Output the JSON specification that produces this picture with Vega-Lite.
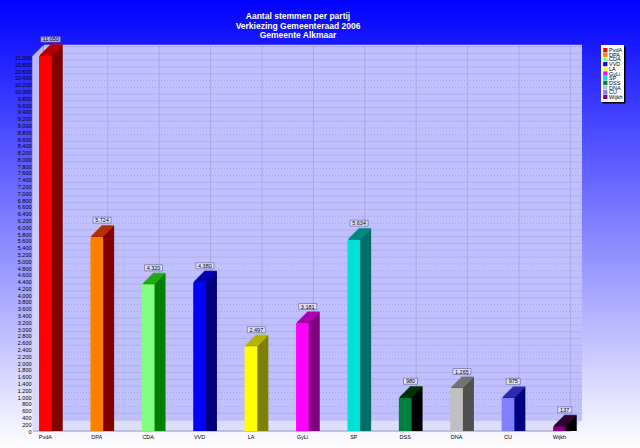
{"$schema":"https://vega.github.io/schema/vega-lite/v6.json","width":640,"height":448,"autosize":"none","padding":0,"background":"#ffffff","view":{"stroke":null,"fill":{"gradient":"linear","x1":0,"y1":0,"x2":0,"y2":1,"stops":[{"offset":0,"color":"#0000ff"},{"offset":1,"color":"#ffffff"}]}},
"title":{"text":["Aantal stemmen per partij","Verkiezing Gemeenteraad 2006","Gemeente Alkmaar"],"color":"#ffffe8","fontSize":8.5,"fontWeight":"bold","font":"Liberation Sans","lineHeight":9.7,"anchor":"middle","frame":"group","baseline":"top","dx":-22,"dy":40,"offset":0},
"datasets":{"votes":[{"party":"PvdA","votes":11050},{"party":"DPA","votes":5724},{"party":"CDA","votes":4320},{"party":"VVD","votes":4380},{"party":"LA","votes":2497},{"party":"GyLi","votes":3181},{"party":"SP","votes":5634},{"party":"DSS","votes":980},{"party":"DNA","votes":1265},{"party":"CU","votes":975},{"party":"Wijkh","votes":137}],
"gridSolid":[{"v":0},{"v":200},{"v":1000},{"v":1200},{"v":1400},{"v":1600},{"v":2200},{"v":2400},{"v":2600},{"v":2800},{"v":3000},{"v":3600},{"v":3800},{"v":4000},{"v":4200},{"v":4800},{"v":5000},{"v":5200},{"v":5400},{"v":5600},{"v":6200},{"v":6400},{"v":6600},{"v":6800},{"v":7000},{"v":7600},{"v":7800},{"v":8000},{"v":8200},{"v":8800},{"v":9000},{"v":9200},{"v":9400},{"v":9600},{"v":10200},{"v":10400},{"v":10600},{"v":10800},{"v":11000}],
"gridDotted":[{"v":400},{"v":600},{"v":800},{"v":1800},{"v":2000},{"v":3200},{"v":3400},{"v":4400},{"v":4600},{"v":5800},{"v":6000},{"v":7200},{"v":7400},{"v":8400},{"v":8600},{"v":9800},{"v":10000}],
"panel":[{"from":0,"to":1,"low":0,"high":11378}]},
"resolve":{"scale":{"x":"independent","y":"independent","color":"independent"},"axis":{"x":"independent","y":"independent"}},
"layer":[
{"data":{"name":"panel"},"mark":{"type":"rect","color":"#c0c0ff","yOffset":-11},"encoding":{"x":{"field":"from","type":"quantitative","axis":null,"scale":{"domain":[0,1],"range":[44,582]}},"x2":{"field":"to"},"y":{"field":"low","type":"quantitative","scale":{"domain":[0,11378],"range":[431,44.7],"nice":false},"axis":{"values":[0,200,400,600,800,1000,1200,1400,1600,1800,2000,2200,2400,2600,2800,3000,3200,3400,3600,3800,4000,4200,4400,4600,4800,5000,5200,5400,5600,5800,6000,6200,6400,6600,6800,7000,7200,7400,7600,7800,8000,8200,8400,8600,8800,9000,9200,9400,9600,9800,10000,10200,10400,10600,10800,11000],"orient":"left","offset":-33,"title":null,"domain":false,"ticks":false,"grid":false,"labelFontSize":5.5,"labelFont":"Liberation Sans","labelColor":"#000000","labelPadding":2,"labelOverlap":false,"labelFlush":false,"labelBound":false,"labelExpr":"replace(format(datum.value,','),',','.')"}},"y2":{"field":"high"}}},
{"data":{"name":"panel"},"encoding":{"x":{"field":"from","type":"quantitative","axis":null,"scale":{"domain":[0,1],"range":[33,571]}},"x2":{"field":"to"},"y":{"field":"low","type":"quantitative","axis":null,"scale":{"domain":[0,11378],"range":[431,44.7],"nice":false}}},"layer":[
{"mark":{"type":"rule","color":"#d8d8fb","strokeWidth":1.2,"xOffset":0,"yOffset":0}},
{"mark":{"type":"rule","color":"#d8d8fb","strokeWidth":1.2,"xOffset":1,"x2Offset":1,"yOffset":-1}},
{"mark":{"type":"rule","color":"#d8d8fb","strokeWidth":1.2,"xOffset":2,"x2Offset":2,"yOffset":-2}},
{"mark":{"type":"rule","color":"#d8d8fb","strokeWidth":1.2,"xOffset":3,"x2Offset":3,"yOffset":-3}},
{"mark":{"type":"rule","color":"#d8d8fb","strokeWidth":1.2,"xOffset":4,"x2Offset":4,"yOffset":-4}},
{"mark":{"type":"rule","color":"#d8d8fb","strokeWidth":1.2,"xOffset":5,"x2Offset":5,"yOffset":-5}},
{"mark":{"type":"rule","color":"#d8d8fb","strokeWidth":1.2,"xOffset":6,"x2Offset":6,"yOffset":-6}},
{"mark":{"type":"rule","color":"#d8d8fb","strokeWidth":1.2,"xOffset":7,"x2Offset":7,"yOffset":-7}},
{"mark":{"type":"rule","color":"#d8d8fb","strokeWidth":1.2,"xOffset":8,"x2Offset":8,"yOffset":-8}},
{"mark":{"type":"rule","color":"#d8d8fb","strokeWidth":1.2,"xOffset":9,"x2Offset":9,"yOffset":-9}},
{"mark":{"type":"rule","color":"#d8d8fb","strokeWidth":1.2,"xOffset":10,"x2Offset":10,"yOffset":-10}},
{"mark":{"type":"rule","color":"#d8d8fb","strokeWidth":1.2,"xOffset":11,"x2Offset":11,"yOffset":-11}},
{"mark":{"type":"rule","color":"#8c8cb4","strokeWidth":0.8}}]},
{"data":{"name":"panel"},"encoding":{"x":{"field":"from","type":"quantitative","axis":null,"scale":{"domain":[0,1],"range":[33,571]}},"y":{"field":"low","type":"quantitative","axis":null,"scale":{"domain":[0,11378],"range":[431,44.7],"nice":false}},"y2":{"field":"high"}},"layer":[
{"mark":{"type":"rule","color":"#d8d8fb","strokeWidth":1.2,"xOffset":0,"y2Offset":11}},
{"mark":{"type":"rule","color":"#d8d8fb","strokeWidth":1.2,"xOffset":1,"yOffset":-1,"y2Offset":10}},
{"mark":{"type":"rule","color":"#d8d8fb","strokeWidth":1.2,"xOffset":2,"yOffset":-2,"y2Offset":9}},
{"mark":{"type":"rule","color":"#d8d8fb","strokeWidth":1.2,"xOffset":3,"yOffset":-3,"y2Offset":8}},
{"mark":{"type":"rule","color":"#d8d8fb","strokeWidth":1.2,"xOffset":4,"yOffset":-4,"y2Offset":7}},
{"mark":{"type":"rule","color":"#d8d8fb","strokeWidth":1.2,"xOffset":5,"yOffset":-5,"y2Offset":6}},
{"mark":{"type":"rule","color":"#d8d8fb","strokeWidth":1.2,"xOffset":6,"yOffset":-6,"y2Offset":5}},
{"mark":{"type":"rule","color":"#d8d8fb","strokeWidth":1.2,"xOffset":7,"yOffset":-7,"y2Offset":4}},
{"mark":{"type":"rule","color":"#d8d8fb","strokeWidth":1.2,"xOffset":8,"yOffset":-8,"y2Offset":3}},
{"mark":{"type":"rule","color":"#d8d8fb","strokeWidth":1.2,"xOffset":9,"yOffset":-9,"y2Offset":2}},
{"mark":{"type":"rule","color":"#d8d8fb","strokeWidth":1.2,"xOffset":10,"yOffset":-10,"y2Offset":1}}]},
{"data":{"name":"gridSolid"},"mark":{"type":"rule","color":"#aaaaec","strokeWidth":0.8,"yOffset":-11},"encoding":{"x":{"datum":0,"type":"quantitative","axis":null,"scale":{"domain":[0,1],"range":[44,582]}},"x2":{"datum":1},"y":{"field":"v","type":"quantitative","axis":null,"scale":{"domain":[0,11378],"range":[431,44.7],"nice":false}}}},
{"data":{"name":"gridDotted"},"mark":{"type":"rule","color":"#9898d4","strokeWidth":0.7,"strokeDash":[1,2],"yOffset":-11},"encoding":{"x":{"datum":0,"type":"quantitative","axis":null,"scale":{"domain":[0,1],"range":[44,582]}},"x2":{"datum":1},"y":{"field":"v","type":"quantitative","axis":null,"scale":{"domain":[0,11378],"range":[431,44.7],"nice":false}}}},
{"data":{"name":"votes"},"mark":{"type":"rule","color":"#a4a4dc","strokeWidth":0.9,"xOffset":11,"yOffset":-11},"encoding":{"x":{"field":"party","type":"nominal","sort":null,"axis":null,"scale":{"type":"band","range":[19.7,585.1],"paddingInner":0.753,"paddingOuter":0.3765}},"y":{"datum":0,"type":"quantitative","axis":null,"scale":{"domain":[0,11378],"range":[431,44.7],"nice":false}},"y2":{"datum":11378}}},
{"data":{"name":"votes"},"encoding":{"x":{"field":"party","type":"nominal","sort":null,"axis":null,"scale":{"type":"band","range":[19.7,585.1],"paddingInner":0.753,"paddingOuter":0.3765}},"y":{"field":"votes","type":"quantitative","stack":null,"axis":null,"scale":{"domain":[0,11378],"range":[431,44.7],"nice":false}},"color":{"field":"party","type":"nominal","sort":null,"legend":null,"scale":{"domain":["PvdA","DPA","CDA","VVD","LA","GyLi","SP","DSS","DNA","CU","Wijkh"],"range":["#800000","#800000","#008000","#000080","#808000","#800080","#007068","#000000","#505050","#000080","#000000"]}}},"layer":[
{"mark":{"type":"bar","xOffset":11,"x2Offset":11,"yOffset":-11,"y2Offset":-11}},
{"mark":{"type":"bar","xOffset":10,"x2Offset":10,"yOffset":-10,"y2Offset":-10}},
{"mark":{"type":"bar","xOffset":9,"x2Offset":9,"yOffset":-9,"y2Offset":-9}},
{"mark":{"type":"bar","xOffset":8,"x2Offset":8,"yOffset":-8,"y2Offset":-8}},
{"mark":{"type":"bar","xOffset":7,"x2Offset":7,"yOffset":-7,"y2Offset":-7}},
{"mark":{"type":"bar","xOffset":6,"x2Offset":6,"yOffset":-6,"y2Offset":-6}},
{"mark":{"type":"bar","xOffset":5,"x2Offset":5,"yOffset":-5,"y2Offset":-5}},
{"mark":{"type":"bar","xOffset":4,"x2Offset":4,"yOffset":-4,"y2Offset":-4}},
{"mark":{"type":"bar","xOffset":3,"x2Offset":3,"yOffset":-3,"y2Offset":-3}},
{"mark":{"type":"bar","xOffset":2,"x2Offset":2,"yOffset":-2,"y2Offset":-2}},
{"mark":{"type":"bar","xOffset":1,"x2Offset":1,"yOffset":-1,"y2Offset":-1}}]},
{"data":{"name":"votes"},"encoding":{"x":{"field":"party","type":"nominal","sort":null,"axis":null,"scale":{"type":"band","range":[19.7,585.1],"paddingInner":0.753,"paddingOuter":0.3765}},"y":{"field":"votes","type":"quantitative","axis":null,"scale":{"domain":[0,11378],"range":[431,44.7],"nice":false}},"color":{"field":"party","type":"nominal","sort":null,"legend":null,"scale":{"domain":["PvdA","DPA","CDA","VVD","LA","GyLi","SP","DSS","DNA","CU","Wijkh"],"range":["#c80000","#c04000","#30b020","#0000c0","#c0c000","#c000c0","#009088","#004000","#808080","#4040c0","#400040"]}}},"layer":[
{"mark":{"type":"tick","size":12.7,"thickness":1.4,"orient":"horizontal","xOffset":11,"yOffset":-11}},
{"mark":{"type":"tick","size":12.7,"thickness":1.4,"orient":"horizontal","xOffset":10,"yOffset":-10}},
{"mark":{"type":"tick","size":12.7,"thickness":1.4,"orient":"horizontal","xOffset":9,"yOffset":-9}},
{"mark":{"type":"tick","size":12.7,"thickness":1.4,"orient":"horizontal","xOffset":8,"yOffset":-8}},
{"mark":{"type":"tick","size":12.7,"thickness":1.4,"orient":"horizontal","xOffset":7,"yOffset":-7}},
{"mark":{"type":"tick","size":12.7,"thickness":1.4,"orient":"horizontal","xOffset":6,"yOffset":-6}},
{"mark":{"type":"tick","size":12.7,"thickness":1.4,"orient":"horizontal","xOffset":5,"yOffset":-5}},
{"mark":{"type":"tick","size":12.7,"thickness":1.4,"orient":"horizontal","xOffset":4,"yOffset":-4}},
{"mark":{"type":"tick","size":12.7,"thickness":1.4,"orient":"horizontal","xOffset":3,"yOffset":-3}},
{"mark":{"type":"tick","size":12.7,"thickness":1.4,"orient":"horizontal","xOffset":2,"yOffset":-2}},
{"mark":{"type":"tick","size":12.7,"thickness":1.4,"orient":"horizontal","xOffset":1,"yOffset":-1}}]},
{"data":{"name":"votes"},"mark":{"type":"bar"},"encoding":{"x":{"field":"party","type":"nominal","sort":null,"title":null,"scale":{"type":"band","range":[19.7,585.1],"paddingInner":0.753,"paddingOuter":0.3765},"axis":{"orient":"bottom","offset":-17,"domain":false,"ticks":false,"grid":false,"labelAngle":0,"labelFontSize":5.5,"labelFont":"Liberation Sans","labelColor":"#000000","labelPadding":3,"title":null}},"y":{"field":"votes","type":"quantitative","stack":null,"axis":null,"scale":{"domain":[0,11378],"range":[431,44.7],"nice":false}},"color":{"field":"party","type":"nominal","sort":null,"legend":null,"scale":{"domain":["PvdA","DPA","CDA","VVD","LA","GyLi","SP","DSS","DNA","CU","Wijkh"],"range":["#ff0000","#ff8000","#80ff80","#0000ff","#ffff00","#ff00ff","#00e0d8","#008040","#c0c0c0","#8080ff","#800080"]}}}},
{"data":{"name":"votes"},"mark":{"type":"tick","orient":"horizontal","thickness":6,"filled":true,"fill":"#eeeeff","stroke":"#30305c","strokeWidth":0.6,"xOffset":5.3,"yOffset":-16.5},"encoding":{"x":{"field":"party","type":"nominal","sort":null,"axis":null,"scale":{"type":"band","range":[19.7,585.1],"paddingInner":0.753,"paddingOuter":0.3765}},"y":{"field":"votes","type":"quantitative","axis":null,"scale":{"domain":[0,11378],"range":[431,44.7],"nice":false}},"size":{"condition":[{"test":"datum.votes<1000","value":14},{"test":"datum.votes>=10000","value":20}],"value":18}}},
{"data":{"name":"votes"},"transform":[{"calculate":"replace(format(datum.votes,','),',','.')","as":"label"}],"mark":{"type":"text","fontSize":5.5,"font":"Liberation Sans","color":"#000000","baseline":"middle","align":"center","xOffset":5.3,"yOffset":-16.5},"encoding":{"x":{"field":"party","type":"nominal","sort":null,"axis":null,"scale":{"type":"band","range":[19.7,585.1],"paddingInner":0.753,"paddingOuter":0.3765}},"y":{"field":"votes","type":"quantitative","axis":null,"scale":{"domain":[0,11378],"range":[431,44.7],"nice":false}},"text":{"field":"label"}}},
{"data":{"name":"panel"},"encoding":{"x":{"field":"from","type":"quantitative","axis":null,"scale":{"domain":[0,1],"range":[601,624]}},"x2":{"field":"to"},"y":{"field":"low","type":"quantitative","axis":null,"scale":{"domain":[0,11378],"range":[102,45],"nice":false}},"y2":{"field":"high"}},"layer":[
{"mark":{"type":"rect","color":"#000000","xOffset":1.5,"x2Offset":1.5,"yOffset":1.5,"y2Offset":1.5}},
{"mark":{"type":"rect","color":"#ffffff"}}]},
{"data":{"name":"votes"},"mark":{"type":"point","shape":"square","filled":true,"size":18,"opacity":1},"encoding":{"x":{"datum":0,"type":"quantitative","axis":null,"scale":{"domain":[0,1],"range":[605.3,624]}},"y":{"field":"party","type":"nominal","sort":null,"axis":null,"scale":{"type":"point","range":[47.8,99.2]}},"color":{"field":"party","type":"nominal","sort":null,"legend":null,"scale":{"domain":["PvdA","DPA","CDA","VVD","LA","GyLi","SP","DSS","DNA","CU","Wijkh"],"range":["#ff0000","#ff8000","#80ff80","#0000ff","#ffff00","#ff00ff","#00e0d8","#008040","#c0c0c0","#8080ff","#800080"]}}}},
{"data":{"name":"votes"},"mark":{"type":"text","fontSize":5.5,"font":"Liberation Sans","color":"#000000","align":"left","baseline":"middle"},"encoding":{"x":{"datum":0,"type":"quantitative","axis":null,"scale":{"domain":[0,1],"range":[609,624]}},"y":{"field":"party","type":"nominal","sort":null,"axis":null,"scale":{"type":"point","range":[47.8,99.2]}},"text":{"field":"party"}}}
]}
